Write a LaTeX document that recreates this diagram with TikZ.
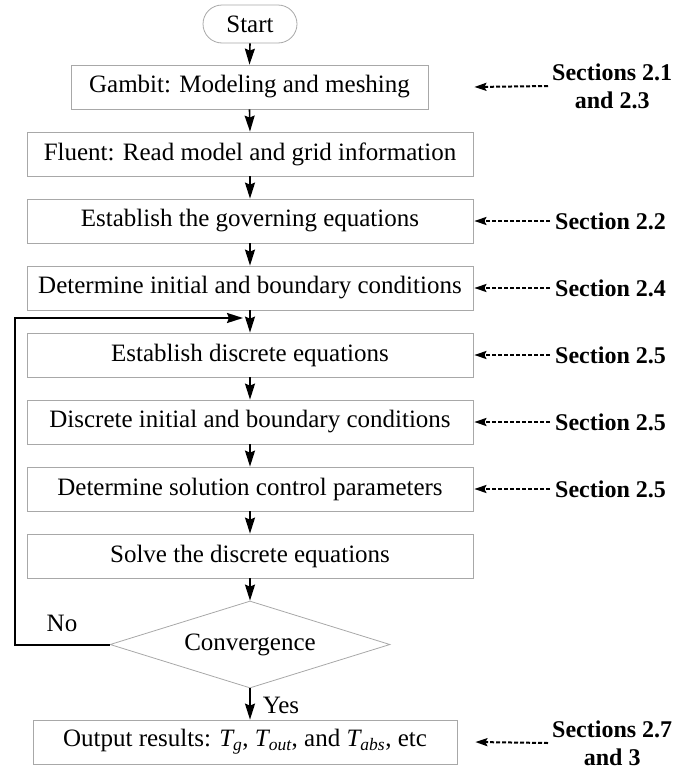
\documentclass[tikz,border=0pt]{standalone}
\usepackage{fontspec}
\setmainfont{LiberationSerif}[Extension=.ttf, UprightFont=*-Regular, BoldFont=*-Bold, ItalicFont=*-Italic, BoldItalicFont=*-BoldItalic]
\usetikzlibrary{arrows.meta,shapes.geometric}
\definecolor{boxgray}{RGB}{168,168,168}
\begin{document}
\begin{tikzpicture}[x=1pt,y=-1pt,
  txt/.style={font=\fontsize{25}{30}\selectfont},
  box/.style={txt, draw=boxgray, line width=0.8pt, minimum height=44pt, inner sep=0pt},
  startbox/.style={txt, draw=boxgray, line width=0.8pt, rounded corners=19pt, minimum width=94pt, minimum height=38pt, inner sep=0pt},
  decision/.style={txt, diamond, aspect=3.2, draw=boxgray, line width=0.8pt, minimum width=280pt, minimum height=87pt, inner sep=0pt},
  flow/.style={line width=1.6pt, -{Stealth[length=16pt,width=10pt,inset=2pt]}},
  loopline/.style={line width=2pt, -{Stealth[length=16pt,width=10pt,inset=2pt]}},
  dasharrow/.style={line width=2pt, dash pattern=on 4pt off 2pt, -{Stealth[length=12pt,width=8pt,inset=2pt]}},
  ref/.style={font=\bfseries\fontsize{24}{28}\selectfont, inner sep=0pt, align=center},
  lbl/.style={txt, inner sep=0pt}]
\useasboundingbox (0,0) rectangle (678,774);

\node[startbox] (start) at (250,24) {Start};
\node[box, minimum width=357pt] (gambit) at (249.5,87) {Gambit: Modeling and meshing};
\node[box, minimum width=446pt] (fluent) at (250,154) {Fluent: Read model and grid information};
\node[box, minimum width=446pt] (gov) at (250,221) {Establish the governing equations};
\node[box, minimum width=446pt] (init) at (250,288) {Determine initial and boundary conditions};
\node[box, minimum width=446pt] (disc) at (250,355) {Establish discrete equations};
\node[box, minimum width=446pt] (dinit) at (250,422) {Discrete initial and boundary conditions};
\node[box, minimum width=446pt] (sol) at (250,489) {Determine solution control parameters};
\node[box, minimum width=446pt] (solve) at (250,556) {Solve the discrete equations};
\node[decision] (conv) at (250,644.5) {Convergence};
\node[box, minimum width=424pt] (out) at (245,742) {Output results: {\itshape T}\textsubscript{\itshape g}, {\itshape T}\textsubscript{\itshape out}, and {\itshape T}\textsubscript{\itshape abs}, etc};

\node[lbl] (no) at (62,623) {No};
\node[lbl] (yes) at (281,705) {Yes};

\draw[flow] (start.south) -- (gambit.north);
\draw[flow] (gambit.south) -- (fluent.north);
\draw[flow] (fluent.south) -- (gov.north);
\draw[flow] (gov.south) -- (init.north);
\draw[flow] (init.south) -- (disc.north);
\draw[flow] (disc.south) -- (dinit.north);
\draw[flow] (dinit.south) -- (sol.north);
\draw[flow] (sol.south) -- (solve.north);
\draw[flow] (solve.south) -- (conv.north);
\draw[flow] (conv.south) -- (conv.south |- out.north);

\coordinate (loopL) at (15,644.5);
\coordinate (loopT) at (243,318);
\draw[loopline] (conv.west) -- (loopL) |- (loopT);

\node[ref, anchor=west] (r1) at (552,86) {Sections 2.1\\and 2.3};
\node[ref, anchor=west] (r2) at (555,221) {Section 2.2};
\node[ref, anchor=west] (r3) at (555,288) {Section 2.4};
\node[ref, anchor=west] (r4) at (555,355) {Section 2.5};
\node[ref, anchor=west] (r5) at (555,422) {Section 2.5};
\node[ref, anchor=west] (r6) at (555,489) {Section 2.5};
\node[ref, anchor=west] (r7) at (552,743) {Sections 2.7\\and 3};

\draw[dasharrow] ([xshift=-4pt]r1.west) -- ([xshift=1pt]gambit.east -| fluent.east);
\draw[dasharrow] ([xshift=-5pt]r2.west) -- ([xshift=1pt]gov.east);
\draw[dasharrow] ([xshift=-5pt]r3.west) -- ([xshift=1pt]init.east);
\draw[dasharrow] ([xshift=-5pt]r4.west) -- ([xshift=1pt]disc.east);
\draw[dasharrow] ([xshift=-5pt]r5.west) -- ([xshift=1pt]dinit.east);
\draw[dasharrow] ([xshift=-5pt]r6.west) -- ([xshift=1pt]sol.east);
\draw[dasharrow] ([xshift=-4pt]r7.west) -- ([xshift=2pt]out.east -| fluent.east);
\end{tikzpicture}
\end{document}
